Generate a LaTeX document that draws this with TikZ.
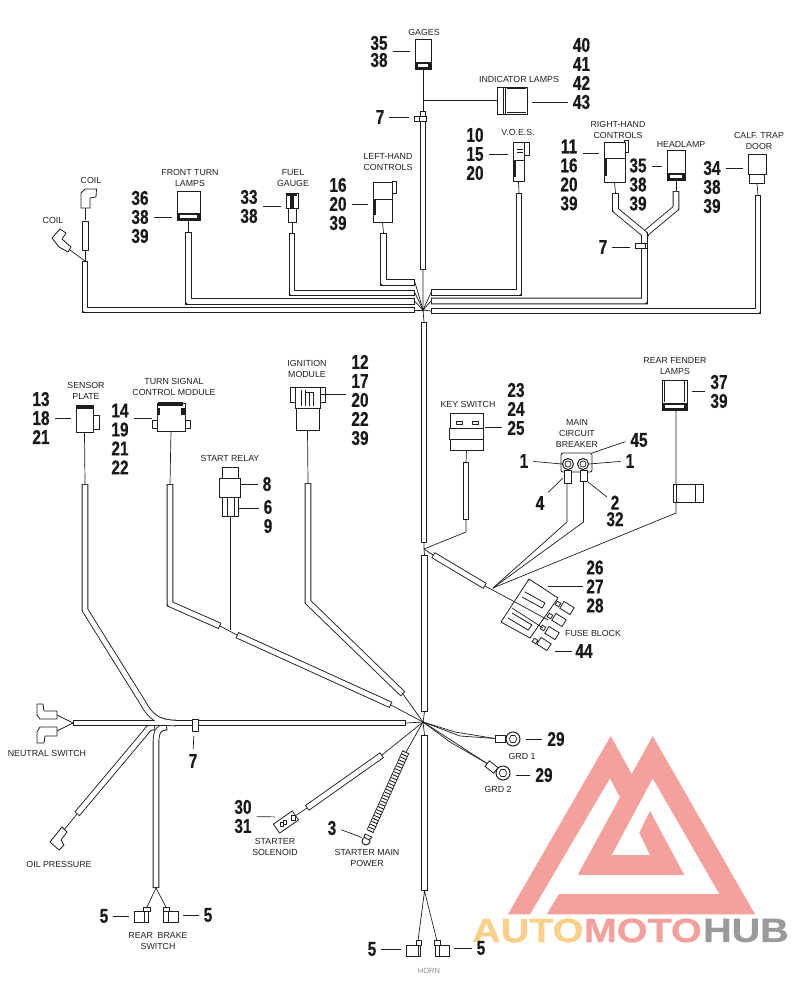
\documentclass[tikz,border=0pt]{standalone}
\usepackage{fontspec}
\setmainfont{Liberation Sans}
\newfontfamily\numfont[FakeStretch=0.77,BoldFeatures={FakeBold=0.5}]{Liberation Sans}
\newfontfamily\logofont[FakeStretch=1.18,BoldFeatures={FakeBold=0.8}]{Liberation Sans}
\usetikzlibrary{positioning,shapes.geometric}
\definecolor{linec}{HTML}{1E1E1E}
\definecolor{logopink}{HTML}{F4A09C}
\definecolor{logogold}{HTML}{FBD08A}
\definecolor{logogray}{HTML}{9A9A9A}
\tikzset{
  wire/.style={draw=linec,line width=.7pt},
  tube/.style={preaction={draw=linec,line width=6.6pt,shorten >=0pt,shorten <=0pt},
    draw=white,line width=4.8pt,shorten >=.9pt,shorten <=.9pt,line join=round},
  body/.style={draw=linec,fill=white,line width=.8pt,inner sep=0pt},
  part/.style={draw=linec,fill=white,line width=.8pt,line join=round},
  dark/.style={fill=linec},
  leader/.style={draw=linec,line width=.7pt,shorten <=5pt,shorten >=5pt},
  num/.style={font=\numfont\bfseries\fontsize{20}{19}\selectfont,align=center,inner sep=0pt,text=black!90},
  lbl/.style={font=\fontsize{8.8}{11}\selectfont,align=center,inner sep=0pt,text=black!88},
  logotext/.style={font=\logofont\bfseries\fontsize{33.5}{33.5}\selectfont,inner sep=0pt,anchor=west}
}
\begin{document}
\begin{tikzpicture}[x=1pt,y=-1pt]
\useasboundingbox (0,0) rectangle (800,993);

% logo
\fill[logopink] (508,914.3) -- (610.7,736) -- (631.7,774) -- (652.7,736) -- (755,914.3)
  -- (546.7,914.3) -- (559,894) -- (719.3,894) -- (652.7,778.3) -- (611.7,855) -- (650,855)
  -- (639.3,832.7) -- (650,811) -- (684.3,875) -- (577.7,875) -- (620,797.3) -- (610,778.3)
  -- (530,914.3) -- cycle;
\node[logotext,text=logogold] (logoa) at (472,930.5) {AUTO};
\node[logotext,text=logopink,right=0pt of logoa] (logob) {MOTO};
\node[logotext,text=logogray,right=1pt of logob] (logoc) {HUB};

% hubs
\coordinate (hubtop) at (423,310);
\coordinate (hubmid) at (424,549);
\coordinate (hubbot) at (423,722);

% main trunk
\coordinate (trunka) at (423,111);  \coordinate (trunkb) at (423,270);
\coordinate (trunkc) at (424,322);  \coordinate (trunkd) at (424,543);
\coordinate (trunke) at (424.5,555);\coordinate (trunkf) at (424.5,712);
\coordinate (trunkg) at (424.5,735);\coordinate (trunkh) at (424.5,891);
\draw[tube] (trunka) -- (trunkb);
\draw[tube] (trunkc) -- (trunkd);
\draw[tube] (trunke) -- (trunkf);
\draw[tube] (trunkg) -- (trunkh);
\draw[wire] (trunkb) -- (hubtop) -- (trunkc);
\draw[wire] (trunkd) -- (hubmid) -- (trunke);
\draw[wire] (trunkf) -- (hubbot) -- (trunkg);
\fill[dark] (hubtop) circle (1.6);
\fill[dark] (hubbot) circle (1.3);

% upper left branches
\coordinate (lhend) at (415,282.5);
\coordinate (fgend) at (415,293);
\coordinate (ftend) at (415,301.5);
\coordinate (clend) at (415,310);
\draw[tube] (383.5,233) -- (383.5,282.5) -- (lhend);
\draw[tube] (292,233) -- (292,293) -- (fgend);
\draw[tube] (188.5,232) -- (188.5,301.5) -- (ftend);
\draw[tube] (85,261) -- (85,310) -- (clend);
\foreach \e in {lhend,fgend,ftend,clend} \draw[wire] (\e) -- (hubtop);

% upper right branches
\coordinate (voend) at (431,292.5);
\coordinate (rhend) at (431,301);
\coordinate (cfend) at (431,311);
\draw[tube] (519,193) -- (519,292.5) -- (voend);
\draw[tube] (758,195) -- (758,311) -- (cfend);
\draw[tube] (676,191) -- (676,208) -- (646,233) -- (644.5,238);
\draw[tube] (615.5,193) -- (615.5,210) -- (644.5,234) -- (644.5,301) -- (rhend);
\draw[white,line width=4.8pt] (644.5,236) -- (644.5,246);
\foreach \e in {voend,rhend,cfend} \draw[wire] (\e) -- (hubtop);

% gages and indicator lamps
\node[body,minimum width=16pt,minimum height=30pt] (gages) at (423,54) {};
\fill[dark] (415,62) rectangle (431,68.5);
\fill[white] (418,64) rectangle (428,67);
\draw[wire] (gages.south) -- (trunka);
\node[body,minimum width=30pt,minimum height=27pt] (lamps) at (512,100.5) {};
\draw[wire] (lamps.west) -- (423,100.5);
\draw[wire] (503,87) -- (503,114) (505,87) -- (505,114);
\draw[wire,line width=1.2pt] (507,88.5) -- (526,88.5) (507,112.5) -- (526,112.5);
\node[part,minimum width=12pt,minimum height=5pt,inner sep=0pt] (bandtop) at (420,118.5) {};
\draw[part] (419.7,116) rectangle (426.3,121);
\node[lbl] (lgages) at (424,32) {GAGES};
\node[lbl] (llamps) at (519,79) {INDICATOR LAMPS};
\node[num] (ngages) at (379,51.5) {35\\[-2pt]38};
\node[num] (nlamps) at (581.5,73.5) {40\\41\\42\\43};
\node[num] (nbandtop) at (380,117) {7};
\coordinate (leadlamps) at ([yshift=-28.5pt]nlamps.west);
\draw[leader] (ngages.east) -- (gages.west |- ngages.east);
\draw[leader] (leadlamps) -- (lamps.east |- leadlamps);
\draw[leader] (nbandtop.east) -- (bandtop.west |- nbandtop.east);

% coils
\draw[wire] (85,208) -- (85,220) (85,250) -- (85,261);
\draw[part] (82,221) rectangle (88,250);
\draw[part] (81,193) -- (85,189) -- (96.5,189) -- (96,197) -- (90,198) -- (90,208) -- (81,208) -- cycle;
\draw[wire] (70,250) -- (85,261);
\draw[part] (52,238) -- (60,229) -- (66,233) -- (62,239) -- (71,247) -- (68,252) -- (59,247) -- cycle;
\node[lbl] (lcoila) at (91,180) {COIL};
\node[lbl] (lcoilb) at (53,220) {COIL};

% front turn lamps
\node[body,minimum width=23pt,minimum height=29pt] (frontturn) at (188.5,205.5) {};
\fill[dark] (177,213) rectangle (200,220);
\fill[white] (180,215) rectangle (197,218);
\draw[wire] (frontturn.south) -- (188.5,232);
\node[lbl] (lfrontturn) at (190,177.5) {FRONT TURN\\LAMPS};
\node[num] (nfrontturn) at (140,217) {36\\38\\39};
\draw[leader] (nfrontturn.east) -- (frontturn.west |- nfrontturn.east);

% fuel gauge
\node[body,minimum width=12pt,minimum height=15pt] (fuel) at (292,200.5) {};
\node[body,minimum width=8pt,minimum height=14pt] (fuellow) at (292,215) {};
\fill[dark] (287,194) rectangle (297,196);
\fill[dark] (290,195) rectangle (294,208);
\draw[wire] (fuellow.south) -- (292,233);
\node[lbl] (lfuel) at (293,178.5) {FUEL\\GAUGE};
\node[num] (nfuel) at (249,206.5) {33\\38};
\draw[leader] (nfuel.east) -- (fuel.west |- nfuel.east);

% left-hand controls
\draw[part] (392,181) rectangle (396,193);
\node[body,minimum width=19pt,minimum height=17pt] (lefthand) at (382.5,190.5) {};
\node[body,minimum width=19pt,minimum height=23pt] (lefthandlow) at (382.5,210.5) {};
\fill[dark] (373,199) rectangle (375.5,215);
\draw[wire] (lefthandlow.south) -- (383.5,233);
\node[lbl] (llefthand) at (388,162.5) {LEFT-HAND\\CONTROLS};
\node[num] (nlefthand) at (338,204) {16\\20\\39};
\draw[leader] (nlefthand.east) -- (lefthandlow.west |- nlefthand.east);

% voes
\draw[part] (524,142) rectangle (529,155);
\node[body,minimum width=11pt,minimum height=18pt] (voes) at (518.5,151) {};
\node[body,minimum width=11pt,minimum height=21pt] (voeslow) at (518.5,170.5) {};
\fill[dark] (513,160) rectangle (516,177);
\draw[wire] (517,149.5) -- (523,149.5) (517,152.5) -- (523,152.5);
\draw[wire] (voeslow.south) -- (519,193);
\node[lbl] (lvoes) at (518,132) {V.O.E.S.};
\node[num] (nvoes) at (475,154) {10\\15\\20};
\draw[leader] (nvoes.east) -- (voes.west |- nvoes.east);

% right-hand controls
\draw[part] (624,140) rectangle (628,152);
\node[body,minimum width=21pt,minimum height=16pt] (righthand) at (614.5,150) {};
\node[body,minimum width=21pt,minimum height=24pt] (righthandlow) at (614.5,170) {};
\fill[dark] (604,158) rectangle (607,176);
\draw[wire] (righthandlow.south) -- (615.5,193);
\node[lbl] (lrighthand) at (618,129.5) {RIGHT-HAND\\CONTROLS};
\node[num] (nrighthand) at (569,175) {11\\16\\20\\39};
\coordinate (leadright) at ([yshift=22pt]nrighthand.east);
\draw[leader] (leadright) -- (righthand.west |- leadright);

% headlamp
\node[body,minimum width=18pt,minimum height=30pt] (headlamp) at (676,165) {};
\fill[dark] (667,173) rectangle (685,180);
\fill[white] (670,175) rectangle (682,178);
\draw[wire] (headlamp.south) -- (676,191);
\node[lbl] (lheadlamp) at (681,144) {HEADLAMP};
\node[num] (nheadlamp) at (638,184.5) {35\\38\\39};
\coordinate (leadhead) at ([yshift=18.5pt]nheadlamp.east);
\draw[leader] (leadhead) -- (headlamp.west |- leadhead);

% calf trap door
\node[body,minimum width=18pt,minimum height=20pt] (calf) at (757,164) {};
\node[body,minimum width=15pt,minimum height=9pt] (calflow) at (757,179) {};
\fill[white] (753,177) rectangle (762,180);
\draw[wire] (calflow.south) -- (758,195);
\node[lbl] (lcalf) at (759,140.5) {CALF. TRAP\\DOOR};
\node[num] (ncalf) at (712,187) {34\\38\\39};
\coordinate (leadcalf) at ([yshift=19pt]ncalf.east);
\draw[leader] (leadcalf) -- (calf.west |- leadcalf);

% band on right branch
\node[part,minimum width=10pt,minimum height=5pt,inner sep=0pt] (bandright) at (640,245.5) {};
\draw[wire] (647.5,243) -- (647.5,248) (635,243) -- (647.5,243) (635,248) -- (647.5,248);
\node[num] (nbandright) at (603,247) {7};
\draw[leader] (nbandright.east) -- (bandright.west |- nbandright.east);

% lower harness, left side
\coordinate (mainend) at (406,723);
\coordinate (neutral) at (73,723);
\draw[tube] (155,727) .. controls (149,727) and (148,729) .. (145,733) -- (77,814);
\draw[tube] (167,727) .. controls (160,727) and (156,730) .. (156,742) -- (156,888);
\draw[tube] (neutral) -- (mainend);
\draw[tube] (85,484) -- (85,610) -- (143,703) .. controls (150,716) and (158,723) .. (176,723);
\draw[white,line width=4.8pt] (150,723) -- (190,723);
\draw[wire] (mainend) -- (hubbot);
\draw[part] (192,719) rectangle (198,731);
\node[lbl] (lneutral) at (47,753) {NEUTRAL SWITCH};
\draw[wire] (neutral) -- (57,715) (neutral) -- (57,731);
\draw[part] (37,704) -- (43,704) -- (44,711) -- (57,711) -- (57,719) -- (40,719) -- (37,715) -- cycle;
\draw[part] (40,727) -- (57,727) -- (57,736) -- (45,736) -- (44,743) -- (37,743) -- (37,732) -- cycle;
\node[num] (nbandlow) at (193,761) {7};
\coordinate (bandlow) at (194,731);
\draw[leader] (nbandlow.north) -- (bandlow);
\draw[wire] (77,814) -- (64,830);
\draw[part] (50,842) -- (62,827) -- (67,832) -- (61,840) -- (64,845) -- (59,850) -- cycle;
\node[lbl] (loil) at (59,864) {OIL PRESSURE};

% rear brake switch
\coordinate (brakeend) at (156,888);
\draw[wire] (brakeend) -- (147,907) (brakeend) -- (166,907);
\draw[part] (143,907) rectangle (150,911);
\node[body,minimum width=14pt,minimum height=11pt] (brakea) at (141,916.5) {};
\draw[wire] (144,911) -- (144,922);
\draw[part] (163,907) rectangle (169,911);
\node[body,minimum width=15pt,minimum height=11pt] (brakeb) at (170.5,916.5) {};
\draw[wire] (168,911) -- (168,922);
\node[lbl] (lbrake) at (158,941) {REAR\ \ BRAKE\\SWITCH};
\node[num] (nbrakea) at (104,916) {5};
\node[num] (nbrakeb) at (208,915) {5};
\draw[leader] (nbrakea.east) -- (brakea.west |- nbrakea.east);
\draw[leader] (nbrakeb.west) -- (brakeb.east |- nbrakeb.west);

% sensor plate
\draw[part] (93,415) rectangle (99,429);
\node[body,minimum width=17pt,minimum height=27pt] (sensor) at (84.5,418.5) {};
\fill[dark] (76,405) rectangle (93,408.5);
\draw[wire] (sensor.south) -- (85,484);
\node[lbl] (lsensor) at (86,390.5) {SENSOR\\PLATE};
\node[num] (nsensor) at (41,418) {13\\18\\21};
\draw[leader] (nsensor.east) -- (sensor.west |- nsensor.east);

% turn signal module
\draw[part] (152,420) rectangle (158,428);
\draw[part] (184,420) rectangle (190,428);
\node[body,minimum width=28pt,minimum height=28pt] (turnsig) at (171,417) {};
\fill[dark] (158,402) rectangle (183,405.5);
\fill[dark] (157,408) rectangle (160,415);
\fill[dark] (181,408) rectangle (185,415);
\draw[wire] (turnsig.south) -- (170,484);
\node[lbl] (lturnsig) at (174,386.5) {TURN SIGNAL\\CONTROL MODULE};
\node[num] (nturnsig) at (120,439) {14\\19\\21\\22};
\coordinate (leadturn) at ([yshift=21pt]nturnsig.east);
\draw[leader] (leadturn) -- (turnsig.west |- leadturn);
\coordinate (turnend) at (391,705);
\draw[tube] (170,484) -- (170,604) -- (220,626);
\draw[tube] (237,635) -- (turnend);
\draw[wire] (220,626) -- (237,635);
\draw[wire] (turnend) -- (hubbot);

% start relay
\node[body,minimum width=16pt,minimum height=11pt] (relaytop) at (230,472.5) {};
\node[body,minimum width=16pt,minimum height=19pt] (relaylow) at (230,506.5) {};
\node[body,minimum width=21pt,minimum height=19pt] (relay) at (229.5,487.5) {};
\draw[wire] (227,497) -- (227,516) (234,497) -- (234,516);
\draw[wire] (relaylow.south) -- (230,630);
\node[lbl] (lrelay) at (230,458) {START RELAY};
\node[num] (nrelaya) at (267,484) {8};
\node[num] (nrelayb) at (268,516.5) {6\\9};
\coordinate (leadrelay) at ([yshift=8.5pt]nrelayb.west);
\draw[leader,shorten >=0pt] (nrelaya.west) -- (relay.east |- nrelaya.west);
\draw[leader,shorten >=0pt] (leadrelay) -- (relaylow.east |- leadrelay);

% ignition module
\draw[part] (290,387) rectangle (295,402);
\draw[part] (320,387) rectangle (325,402);
\node[body,minimum width=25pt,minimum height=21pt] (ignition) at (307.5,397.5) {};
\node[body,minimum width=23pt,minimum height=22pt] (ignitionlow) at (307.5,419) {};
\draw[wire] (301,390) -- (301,406) (305,390) -- (305,406) (309,392) -- (309,406)
  (313,392) -- (313,406) (305,392) -- (313,392);
\draw[wire] (ignitionlow.south) -- (308,483);
\node[lbl] (lignition) at (307,369) {IGNITION\\MODULE};
\node[num] (nignition) at (360,400) {12\\17\\20\\22\\39};
\coordinate (leadign) at ([yshift=6pt]nignition.west);
\draw[leader,shorten >=0pt] (leadign) -- (ignition.east |- leadign);
\coordinate (ignend) at (403,694);
\draw[tube] (308,483) -- (308,602) -- (ignend);
\draw[wire] (ignend) -- (hubbot);

% key switch
\node[body,minimum width=33pt,minimum height=37pt] (keysw) at (466.5,431.5) {};
\draw[part,line width=1.4pt] (449.5,428.5) rectangle (483.5,439.5);
\draw[part] (456,421.5) rectangle (462,424.5);
\draw[part] (472,421.5) rectangle (478,424.5);
\coordinate (keytuba) at (466,462);
\coordinate (keytubb) at (466,520);
\coordinate (keybend) at (466,532);
\draw[wire] (keysw.south) -- (keytuba);
\draw[tube,preaction={draw=linec,line width=5.8pt,shorten >=0pt,shorten <=0pt},line width=4.3pt] (keytuba) -- (keytubb);
\draw[wire] (keytubb) -- (keybend) -- (hubmid);
\node[lbl] (lkeysw) at (468,404) {KEY SWITCH};
\node[num] (nkeysw) at (516,409) {23\\24\\25};
\coordinate (leadkey) at ([yshift=-18pt]nkeysw.west);
\draw[leader,shorten >=2pt] (leadkey) -- (keysw.east |- leadkey);

% fuse block
\coordinate (fusea) at (433,555);
\coordinate (fuseb) at (485,586);
\coordinate (fusepoint) at (493,588);
\draw[wire] (hubmid) -- (fusea);
\draw[tube] (fusea) -- (fuseb);
\draw[wire] (fuseb) -- (515,602);
\foreach \cx/\cy/\sx/\sy [count=\i] in {567/608/558/604,559/620/550/616,552/633/543/628,544/644/535/641}{
  \node[body,rotate=-32,minimum size=4pt] (fusestub\i) at (\sx,\sy) {};
  \node[body,rotate=-32,minimum width=12pt,minimum height=8pt] (fusecap\i) at (\cx,\cy) {};
}
\draw[part] (529,579) -- (558,598) -- (530,638) -- (501,622) -- cycle;
\draw[part] (525,592) -- (545,603) -- (542,608) -- (522,597);
\draw[part] (512,613) -- (532,625) -- (528,630) -- (508,618);
\draw[wire] (515,602) -- (548,620) (512,608) -- (543,628);
\node[lbl] (lfuse) at (593,633) {FUSE BLOCK};
\node[num] (nfuse) at (595,586.5) {26\\27\\28};
\node[num] (nfusex) at (584,651) {44};
\coordinate (fuseback) at (546,586.5);
\draw[leader,shorten >=2pt,shorten <=3pt] (nfuse.west) -- (fuseback);
\coordinate (fuseend) at (552,651);
\draw[leader,shorten <=3pt,shorten >=3pt] (nfusex.west) -- (fuseend);

% main circuit breaker
\node[lbl] (lbreaker) at (577,433.5) {MAIN\\CIRCUIT\\BREAKER};
\draw[wire] (fusepoint) -- (567,522) -- (567,483);
\draw[wire] (fusepoint) -- (583.5,522) -- (583.5,481);
\draw[part,rounded corners=2pt] (561,453) rectangle (592,472);
\draw[part] (564.5,470) rectangle (571,483);
\draw[part] (580.5,470) rectangle (587,481);
\node[draw=linec,fill=white,circle,line width=1pt,minimum size=11pt,inner sep=0pt] (ringa) at (568,464) {};
\node[draw=linec,fill=white,circle,line width=1pt,minimum size=11pt,inner sep=0pt] (ringb) at (583,464) {};
\node[draw=linec,circle,line width=.7pt,minimum size=6pt,inner sep=0pt] (ringai) at (568,464) {};
\node[draw=linec,circle,line width=.7pt,minimum size=6pt,inner sep=0pt] (ringbi) at (583,464) {};
\node[num] (nbra) at (524,461) {1};
\node[num] (nbrb) at (630,461) {1};
\node[num] (nbrc) at (639,440) {45};
\node[num] (nbrd) at (540,503) {4};
\node[num] (nbre) at (615,511) {2\\[-2.5pt]32};
\coordinate (breakc) at (592,453);
\coordinate (braked) at (563,478);
\coordinate (brakee) at (588,482);
\coordinate (leadbre) at (607,497);
\draw[leader,shorten >=0pt] (nbra.east) -- (ringa.west);
\draw[leader,shorten >=0pt] (nbrb.west) -- (ringb.east);
\draw[leader,shorten >=0pt] (nbrc.west) -- (breakc);
\draw[leader,shorten >=0pt] (nbrd.north east) -- (braked);
\draw[leader,shorten >=0pt,shorten <=0pt] (leadbre) -- (brakee);

% rear fender lamps
\coordinate (fenderbend) at (676,513);
\draw[wire] (fusepoint) -- (fenderbend) -- (676,410);
\node[body,minimum width=25pt,minimum height=30pt] (fender) at (674.5,395) {};
\fill[dark] (662,403) rectangle (687,410);
\fill[white] (665,405) rectangle (684,408);
\draw[wire] (664.5,381) -- (664.5,402) (684.5,381) -- (684.5,402);
\draw[part] (673,484) rectangle (703,502);
\draw[wire] (676,484) -- (676,502) (695,484) -- (695,502);
\node[lbl] (lfender) at (675,366.5) {REAR FENDER\\LAMPS};
\node[num] (nfender) at (719,391.5) {37\\39};
\draw[leader] (nfender.west) -- (fender.east |- nfender.west);

% starter solenoid
\coordinate (solend) at (382,755);
\coordinate (solstart) at (307,808);
\draw[wire] (hubbot) -- (solend);
\draw[tube] (solstart) -- (solend);
\node[body,rotate=35,minimum width=23pt,minimum height=11pt] (solenoid) at (286,822) {};
\draw[wire] (solenoid) -- (solstart);
\draw[part] (280,822) rectangle (283,826);
\draw[part] (283,820.5) rectangle (286,824.5);
\draw[part] (291,815) rectangle (295,820);
\node[lbl] (lsolenoid) at (275,846.5) {STARTER\\SOLENOID};
\node[num] (nsolenoid) at (243,816.5) {30\\31};
\coordinate (leadsol) at (280,817);
\draw[leader] (nsolenoid.east) -- (leadsol);

% starter main power
\coordinate (mainpower) at (406,752);
\draw[wire] (hubbot) -- (mainpower);
\draw[draw=linec,line width=6pt,dash pattern=on .9pt off 2.3pt] (mainpower) -- (370,832);
\draw[wire] (403,750) -- (367,830) (409,753) -- (373,833);
\node[draw=linec,fill=white,circle,line width=1pt,minimum size=8pt,inner sep=0pt] (ringmain) at (366,841) {};
\draw[part] (365,834) -- (372,837) -- (369,840) -- (364,837) -- cycle;
\node[lbl] (lmain) at (367,857.5) {STARTER MAIN\\POWER};
\node[num] (nmain) at (332,828) {3};
\draw[leader,shorten >=1pt] (nmain.east) -- (ringmain.north west);

% grounds
\node[draw=linec,fill=white,circle,line width=1pt,minimum size=14pt,inner sep=0pt] (grda) at (513,739) {};
\node[draw=linec,fill=white,circle,line width=1pt,minimum size=14pt,inner sep=0pt] (grdb) at (503,773) {};
\node[draw=linec,regular polygon,regular polygon sides=6,minimum size=8pt,inner sep=0pt,line width=.6pt] (hexa) at (513,739) {};
\node[draw=linec,regular polygon,regular polygon sides=6,minimum size=8pt,inner sep=0pt,line width=.6pt] (hexb) at (503,773) {};
\node[body,minimum width=10pt,minimum height=7pt] (crimpa) at (500.5,738.5) {};
\node[body,rotate=-38,minimum width=11pt,minimum height=7pt] (crimpb) at (491.5,767) {};
\draw[wire] (hubbot) -- (455,732) -- (crimpa.west);
\draw[wire] (hubbot) -- (460,736) -- (crimpa.west);
\draw[wire] (hubbot) -- (crimpb.west);
\draw[wire] (hubbot) -- (450,742) -- (crimpb.west);
\node[lbl] (lgrda) at (522,756) {GRD 1};
\node[lbl] (lgrdb) at (498,789) {GRD 2};
\node[num] (ngrda) at (556,739) {29};
\node[num] (ngrdb) at (544,775) {29};
\draw[leader] (ngrda.west) -- (grda.east |- ngrda.west);
\draw[leader] (ngrdb.west) -- (grdb.east |- ngrdb.west);

% horn
\draw[wire] (trunkh) -- (418,941) (trunkh) -- (437,941);
\draw[part] (416,940) rectangle (421,945);
\node[body,minimum width=14pt,minimum height=11pt] (horna) at (413,950.5) {};
\draw[wire] (418,945) -- (418,956);
\draw[part] (434,940) rectangle (440,945);
\node[body,minimum width=14pt,minimum height=11pt] (hornb) at (442,950.5) {};
\draw[wire] (439,945) -- (439,956);
\node[lbl,text=black!45,font=\fontsize{7.5}{9}\selectfont] (lhorn) at (429,971) {HORN};
\node[num] (nhorna) at (372,949) {5};
\node[num] (nhornb) at (481,948) {5};
\draw[leader] (nhorna.east) -- (horna.west |- nhorna.east);
\draw[leader] (nhornb.west) -- (hornb.east |- nhornb.west);
\end{tikzpicture}
\end{document}
